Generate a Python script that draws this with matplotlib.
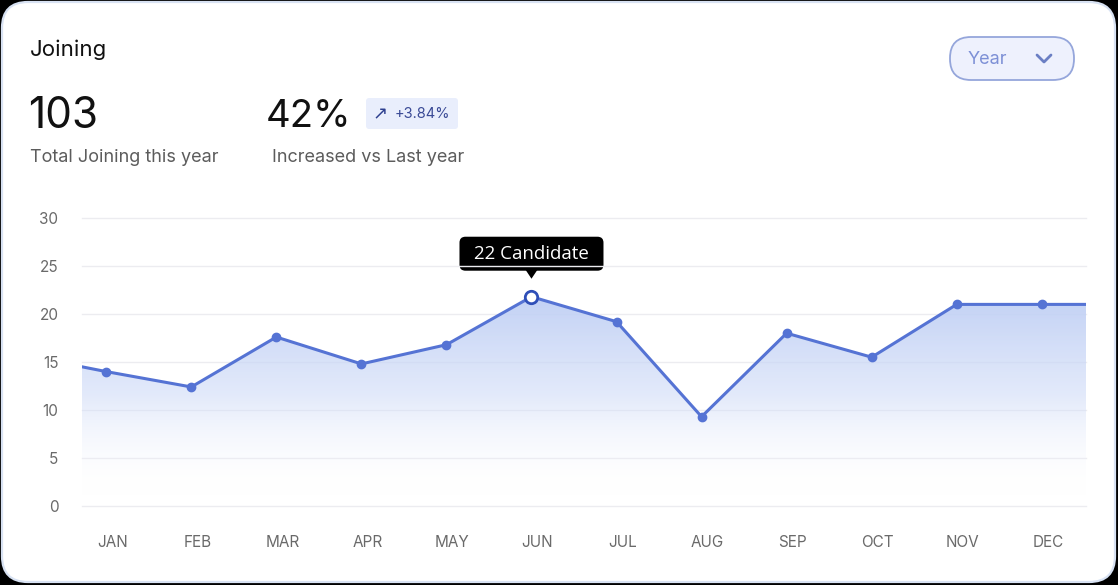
import numpy as np
import matplotlib
matplotlib.use("Agg")
import matplotlib.pyplot as plt
from matplotlib.patches import FancyBboxPatch, Polygon
from matplotlib.transforms import ScaledTranslation

plt.rcParams['font.family'] = ['Inter', 'DejaVu Sans']

months = ['JAN', 'FEB', 'MAR', 'APR', 'MAY', 'JUN', 'JUL', 'AUG', 'SEP', 'OCT', 'NOV', 'DEC']
joining = [14.0, 12.4, 17.6, 14.8, 16.8, 21.8, 19.2, 9.3, 18.0, 15.5, 21.0, 21.0]
# values just outside the visible range (line runs off both edges)
lead_value = 15.75
trail_value = 21.0
y_ticks = [0, 5, 10, 15, 20, 25, 30]
highlight = 'JUN'
tooltip_text = '22 Candidate'

line_col = '#5573d4'

W, H = 1118, 585
fig = plt.figure(figsize=(W / 100, H / 100), dpi=100)
fig.patch.set_facecolor('black')

# card background
bg = fig.add_axes([0, 0, 1, 1])
bg.set_xlim(0, W)
bg.set_ylim(H, 0)
bg.axis('off')
bg.add_patch(FancyBboxPatch((2, 2), W - 5, H - 5,
                            boxstyle='round,pad=0,rounding_size=26',
                            fc='white', ec='#d8e2f3', lw=1.6))

bg.text(30, 50, 'Joining', fontsize=16, color='#111111', va='center', ha='left')
bg.text(28, 117, '103', fontsize=30.5, color='#111111', va='center', ha='left')
bg.text(30, 158, 'Total Joining this year', fontsize=13, color='#5c5c5c', va='center')
bg.text(266, 117, '42%', fontsize=27.5, color='#111111', va='center', ha='left')
bg.text(272, 158, 'Increased vs Last year', fontsize=13, color='#5c5c5c', va='center')

# change badge
bg.add_patch(FancyBboxPatch((366, 98), 92, 31, boxstyle='round,pad=0,rounding_size=3',
                            fc='#e9eefc', ec='none'))
bg.text(372, 114, '↗', fontsize=13, color='#2d3f8f', va='center', ha='left',
        family=['DejaVu Sans'])
bg.text(395, 114, '+3.84%', fontsize=10.5, color='#3a4a96', va='center', ha='left')

# dropdown
bg.add_patch(FancyBboxPatch((950, 37), 124, 43, boxstyle='round,pad=0,rounding_size=21',
                            fc='#eef1fd', ec='#95a6db', lw=1.3))
bg.text(968, 59, 'Year', fontsize=13, color='#7d90d6', va='center', ha='left')
bg.plot([1037, 1044, 1051], [55, 62, 55], color='#6b7fc4', lw=2, solid_capstyle='round')

# chart axes
left, right, top, bottom = 82, 1086, 218, 506
ax = fig.add_axes([left / W, 1 - bottom / H, (right - left) / W, (bottom - top) / H])
ax.patch.set_alpha(0)
x = np.arange(len(months))
xs = np.concatenate([[-1], x, [len(months)]])
ys = np.concatenate([[lead_value], joining, [trail_value]])
x0, x1 = -0.285, 11.52
ax.set_xlim(x0, x1)
ax.set_ylim(0, 30)

for t in y_ticks:
    ax.axhline(t, color='#ececf0', lw=1, zorder=0, clip_on=False)

# gradient fill under line
grad = np.linspace(0, 1, 256).reshape(-1, 1)
cmap = matplotlib.colors.LinearSegmentedColormap.from_list(
    'g', [(1, 1, 1, 0.0), (0.80, 0.85, 0.97, 0.55), (0.76, 0.82, 0.96, 1.0)])
im = ax.imshow(grad, extent=[x0, x1, 1, 22], origin='lower', aspect='auto',
               cmap=cmap, zorder=1)
poly = Polygon(np.column_stack([np.concatenate([xs, [xs[-1], xs[0]]]),
                                np.concatenate([ys, [1, 1]])]),
               closed=True, transform=ax.transData)
im.set_clip_path(poly)

ax.plot(xs, ys, color=line_col, lw=2.2, zorder=3)
hi = months.index(highlight)
mask = [i for i in range(len(months)) if i != hi]
ax.scatter(x[mask], np.array(joining)[mask], s=36, color=line_col, zorder=4)
ax.scatter([x[hi]], [joining[hi]], s=80, facecolor='white', edgecolor='#2f4fb8',
           lw=2, zorder=5)

ax.set_xticks(x)
ax.set_xticklabels(months)
ax.set_yticks(y_ticks)
ax.tick_params(length=0, labelsize=11, labelcolor='#6a6a6a')
ax.tick_params(axis='x', pad=21)
ax.tick_params(axis='y', pad=17)
shift = ScaledTranslation(6 / 100, 0, fig.dpi_scale_trans)
for lab in ax.get_xticklabels():
    lab.set_transform(lab.get_transform() + shift)
for s in ax.spines.values():
    s.set_visible(False)

# tooltip
tx, ty = ax.transData.transform((x[hi], joining[hi]))
bx = tx * W / fig.bbox.width
by = H - ty * H / fig.bbox.height
bg.add_patch(FancyBboxPatch((bx - 72, by - 60), 144, 34,
                            boxstyle='round,pad=0,rounding_size=6', fc='black', ec='none'))
bg.add_patch(Polygon([[bx - 6, by - 27], [bx + 6, by - 27], [bx, by - 18]],
                     closed=True, fc='black', ec='none'))
bg.text(bx, by - 43, tooltip_text, fontsize=13.5, color='white', ha='center',
        va='center', family=['Open Sans', 'DejaVu Sans'])

fig.savefig('out.png', dpi=100, facecolor='black')
